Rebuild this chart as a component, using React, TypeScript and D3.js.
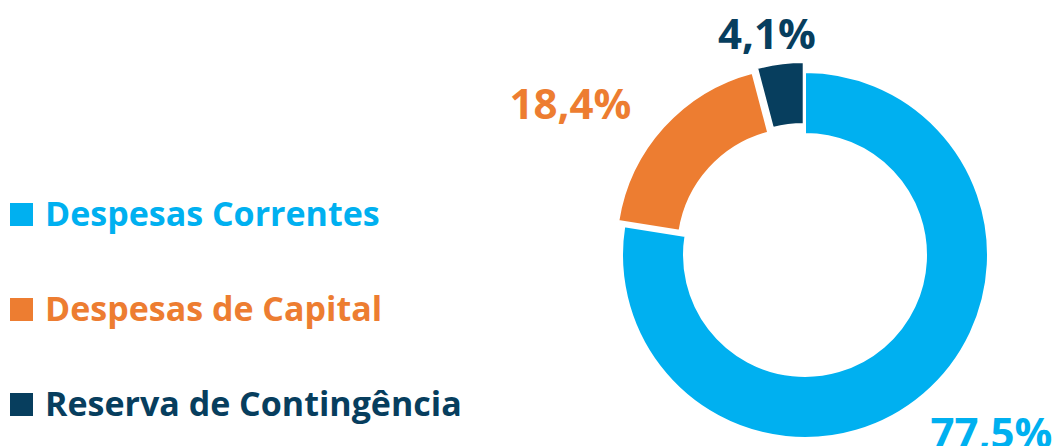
import React from 'react'
import * as d3 from 'd3'

const categories = ['Despesas Correntes', 'Despesas de Capital', 'Reserva de Contingência']
const shares = [77.5, 18.4, 4.1]
const labels = ['77,5%', '18,4%', '4,1%']
const colors = ['#00B0F0', '#ED7D31', '#073E5E']

// layout (per slice): how far the slice is pulled out, and where its label sits
const explode = [0, 8, 10]
const labelRadius = [257, 280, 226]
const labelTurn = [-6, -9, -2.3] // degrees, nudges the label around the ring

const width = 1057
const height = 446
const cx = 805
const cy = 255
const outerR = 183
const innerR = 121

export default function App() {
    const pie = d3.pie<number>().sort(null).value((d) => d)
    const arcs = pie(shares)
    const arc = d3.arc<d3.PieArcDatum<number>>().innerRadius(innerR).outerRadius(outerR)

    return (
        <svg
            width={width}
            height={height}
            style={{ position: 'absolute', left: 0, top: 0 }}
            fontFamily="'Open Sans', 'Noto Sans', sans-serif"
            fontWeight={700}
        >
            <g transform={`translate(${cx},${cy})`}>
                {arcs.map((a, i) => {
                    const mid = (a.startAngle + a.endAngle) / 2
                    const dx = Math.sin(mid) * explode[i]
                    const dy = -Math.cos(mid) * explode[i]
                    return (
                        <path
                            key={i}
                            d={arc(a) || ''}
                            fill={colors[i]}
                            stroke="#fff"
                            strokeWidth={2}
                            transform={`translate(${dx},${dy})`}
                        />
                    )
                })}
                {arcs.map((a, i) => {
                    const mid = (a.startAngle + a.endAngle) / 2 + (labelTurn[i] * Math.PI) / 180
                    const lx = Math.sin(mid) * labelRadius[i]
                    const ly = -Math.cos(mid) * labelRadius[i]
                    return (
                        <text
                            key={i}
                            x={lx}
                            y={ly}
                            textAnchor="middle"
                            dominantBaseline="central"
                            fontSize={42}
                            fill={colors[i]}
                        >
                            {labels[i]}
                        </text>
                    )
                })}
            </g>
            {categories.map((c, i) => (
                <g key={c} transform={`translate(10,${226 + i * 95})`}>
                    <rect x={0} y={-23} width={23} height={23} fill={colors[i]} />
                    <text x={35} y={0} fontSize={34} fill={colors[i]}>
                        {c}
                    </text>
                </g>
            ))}
        </svg>
    )
}
